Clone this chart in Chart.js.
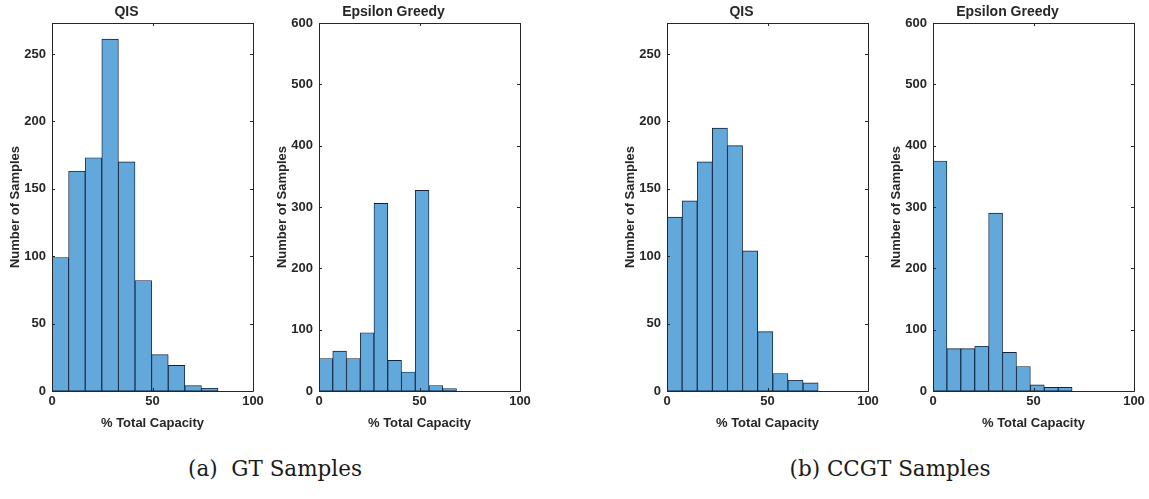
<!DOCTYPE html>
<html>
<head>
<meta charset="utf-8">
<script src="https://cdn.jsdelivr.net/npm/chart.js@4/dist/chart.umd.min.js"></script>
<style>
  body { margin: 0; background: #fff; width: 1149px; height: 499px; position: relative; overflow: hidden; }
  .panel { position: absolute; top: 0; width: 267px; height: 440px; }
  .caption { position: absolute; top: 456px; font-family: "DejaVu Serif", serif; font-size: 21.5px; color: #1a1a1a; white-space: nowrap; transform: translateX(-50%); }
</style>
</head>
<body>
<div class="panel" style="left:0"><canvas id="gtQis"></canvas></div>
<div class="panel" style="left:267px"><canvas id="gtEps"></canvas></div>
<div class="panel" style="left:615px"><canvas id="ccgtQis"></canvas></div>
<div class="panel" style="left:881px"><canvas id="ccgtEps"></canvas></div>
<div class="caption" style="left:275px">(a)&nbsp; GT Samples</div>
<div class="caption" style="left:890px">(b) CCGT Samples</div>
<script>
'use strict';

// histogram counts, bins start at 0
const gtQisCounts = [99, 163, 173, 261, 170, 82, 27, 19, 4, 2];
const gtQisBinWidth = 8.26;
const gtEpsCounts = [53, 65, 53, 95, 306, 50, 31, 327, 9, 4];
const gtEpsBinWidth = 6.84;
const ccgtQisCounts = [129, 141, 170, 195, 182, 104, 44, 13, 8, 6];
const ccgtQisBinWidth = 7.52;
const ccgtEpsCounts = [375, 69, 69, 73, 290, 63, 40, 10, 6, 6];
const ccgtEpsBinWidth = 6.92;

const xTicks = [0, 50, 100];
const qisYMax = 273;
const epsYMax = 600;

const TEXT = '#262626';
const FONT = '"Liberation Sans", Arial, sans-serif';

// box round the plot with inward ticks on all four sides
const boxPlugin = {
  id: 'box',
  afterDraw(chart) {
    const ctx = chart.ctx;
    const a = chart.chartArea;
    const xs = chart.scales.x, ys = chart.scales.y;
    ctx.save();
    ctx.strokeStyle = TEXT;
    ctx.lineWidth = 1;
    ctx.beginPath();
    ctx.rect(Math.round(a.left) + 0.5, Math.round(a.top) + 0.5,
      Math.round(a.right - a.left), Math.round(a.bottom - a.top));
    xs.ticks.forEach(t => {
      const px = Math.round(xs.getPixelForValue(t.value)) + 0.5;
      ctx.moveTo(px, a.bottom); ctx.lineTo(px, a.bottom - 3);
      ctx.moveTo(px, a.top); ctx.lineTo(px, a.top + 3);
    });
    ys.ticks.forEach(t => {
      const py = Math.round(ys.getPixelForValue(t.value)) + 0.5;
      ctx.moveTo(a.left, py); ctx.lineTo(a.left + 3, py);
      ctx.moveTo(a.right, py); ctx.lineTo(a.right - 3, py);
    });
    ctx.stroke();
    ctx.restore();
  }
};

function drawHist(id, title, counts, binWidth, yMax, yStep) {
  const points = counts.map((c, i) => ({ x: (i + 0.5) * binWidth, y: c }));
  return new Chart(document.getElementById(id), {
    type: 'bar',
    data: {
      datasets: [{
        data: points,
        backgroundColor: '#62a8da',
        borderColor: '#13223a',
        borderWidth: 0.9,
        borderSkipped: false,
        barPercentage: 1,
        categoryPercentage: 1
      }]
    },
    options: {
      responsive: false,
      animation: false,
      layout: { padding: { left: 0, right: 14, top: 0, bottom: 0 } },
      plugins: {
        legend: { display: false },
        tooltip: { enabled: false },
        title: {
          display: true,
          text: title,
          color: TEXT,
          font: { family: FONT, size: 14, weight: 'bold' },
          padding: { top: 4, bottom: 2.2 }
        }
      },
      scales: {
        x: {
          type: 'linear',
          min: 0, max: 100,
          offset: false,
          grid: { display: false, drawTicks: false, offset: false },
          border: { display: false },
          afterBuildTicks: s => { s.ticks = xTicks.map(v => ({ value: v })); },
          afterFit: s => { s.height = 49; },
          ticks: { color: TEXT, padding: 3, maxRotation: 0, font: { family: FONT, size: 13, weight: 'bold' } },
          title: {
            display: true, text: '% Total Capacity', color: TEXT,
            padding: { top: 0, bottom: 9 },
            font: { family: FONT, size: 13, weight: 'bold' }
          }
        },
        y: {
          min: 0, max: yMax,
          grid: { display: false, drawTicks: false },
          border: { display: false },
          afterBuildTicks: s => { s.ticks = s.ticks.filter(t => t.value % yStep === 0); },
          afterFit: s => { s.width = 52; },
          ticks: { stepSize: yStep, color: TEXT, padding: 6, font: { family: FONT, size: 13, weight: 'bold' } },
          title: {
            display: true, text: 'Number of Samples', color: TEXT,
            padding: { top: 7.7, bottom: 0 },
            font: { family: FONT, size: 13, weight: 'bold' }
          }
        }
      }
    },
    plugins: [boxPlugin]
  });
}

for (const c of document.querySelectorAll('canvas')) { c.width = 267; c.height = 440; }

drawHist('gtQis', 'QIS', gtQisCounts, gtQisBinWidth, qisYMax, 50);
drawHist('gtEps', 'Epsilon Greedy', gtEpsCounts, gtEpsBinWidth, epsYMax, 100);
drawHist('ccgtQis', 'QIS', ccgtQisCounts, ccgtQisBinWidth, qisYMax, 50);
drawHist('ccgtEps', 'Epsilon Greedy', ccgtEpsCounts, ccgtEpsBinWidth, epsYMax, 100);
</script>
</body>
</html>
